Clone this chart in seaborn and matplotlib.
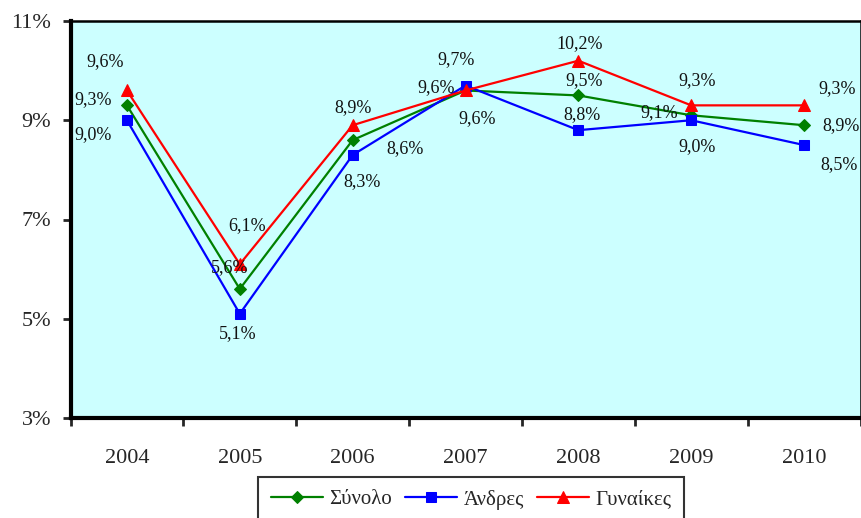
import matplotlib
matplotlib.use("Agg")
import matplotlib.pyplot as plt
import seaborn as sns
import pandas as pd
import numpy as np
from matplotlib.ticker import FixedLocator, FuncFormatter

years = ["2004", "2005", "2006", "2007", "2008", "2009", "2010"]
synolo = [9.3, 5.6, 8.6, 9.6, 9.5, 9.1, 8.9]
andres = [9.0, 5.1, 8.3, 9.7, 8.8, 9.0, 8.5]
gynaikes = [9.6, 6.1, 8.9, 9.6, 10.2, 9.3, 9.3]
series_names = ["Σύνολο", "Άνδρες", "Γυναίκες"]
y_ticks = [3, 5, 7, 9, 11]

sns.set_theme(style="white")
plt.rcParams['font.family'] = ['Liberation Serif', 'DejaVu Serif']

W, H = 861, 518
fig = plt.figure(figsize=(W / 100, H / 100), dpi=100)
ax = fig.add_axes([70.5 / W, (H - 418) / H, 790 / W, 397 / H])
ax.set_facecolor("#CCFFFF")

styles = {
    "Σύνολο": dict(color="#008000", marker="D", markersize=6),
    "Άνδρες": dict(color="#0000FF", marker="s", markersize=7),
    "Γυναίκες": dict(color="#FF0000", marker="^", markersize=8),
}
values = {"Σύνολο": synolo, "Άνδρες": andres, "Γυναίκες": gynaikes}

for name in series_names:
    df = pd.DataFrame({"year": years, "value": values[name]})
    st = styles[name]
    sns.lineplot(data=df, x="year", y="value", ax=ax, color=st["color"],
                 marker=st["marker"], markersize=st["markersize"],
                 markeredgecolor=st["color"], linewidth=1.6, label=name,
                 sort=False)

# label offsets in pixels (dx, dy) per series and year
offsets = {
    "Γυναίκες": [(-22, 29), (7, 39), (0, 18), (12, -28), (1, 17), (6, 25), (33, 17)],
    "Σύνολο": [(-34, 6), (-10, 21), (52, -8), (-29, 3), (6, 15), (-32, 3), (37, 0)],
    "Άνδρες": [(-34, -14), (-2, -20), (9, -27), (-9, 26), (4, 16), (6, -26), (35, -20)],
}
for name in series_names:
    for i, v in enumerate(values[name]):
        dx, dy = offsets[name][i]
        ax.annotate(f"{v:.1f}%".replace(".", ","), xy=(i, v), xytext=(dx, dy),
                    textcoords="offset pixels", ha="center", va="center",
                    fontsize=13, color="#111111")

ax.set_xlim(-0.5, 6.5)
ax.set_ylim(3, 11)
ax.yaxis.set_major_locator(FixedLocator(y_ticks))
ax.yaxis.set_major_formatter(FuncFormatter(lambda v, p: f"{v:.0f}%"))
ax.set_xticks(range(len(years)))
ax.set_xticklabels(years)
ax.set_xticks(np.arange(-0.5, len(years), 1.0), minor=True)
ax.tick_params(axis="x", which="major", length=0, pad=22, labelsize=16)
ax.tick_params(axis="x", which="minor", length=6, width=2, direction="out", bottom=True)
ax.tick_params(axis="y", which="major", length=6, width=2, direction="out", left=True,
               pad=8, labelsize=16)
ax.set_xlabel("")
ax.set_ylabel("")

for s in ["left", "bottom"]:
    ax.spines[s].set_linewidth(3)
    ax.spines[s].set_color("black")
for s in ["top", "right"]:
    ax.spines[s].set_linewidth(1.8)
    ax.spines[s].set_color("black")

handles, labels = ax.get_legend_handles_labels()
ax.get_legend().remove()
leg = fig.legend(handles, labels, loc="upper left",
                 bbox_to_anchor=(258 / W, 1 - 477 / H), ncol=3,
                 frameon=True, fancybox=False, edgecolor="black",
                 fontsize=15, handlelength=2.5, handletextpad=0.33,
                 columnspacing=0.6, borderpad=0.6, borderaxespad=0)
leg.get_frame().set_linewidth(1.5)

fig.savefig("out.png", dpi=100)
